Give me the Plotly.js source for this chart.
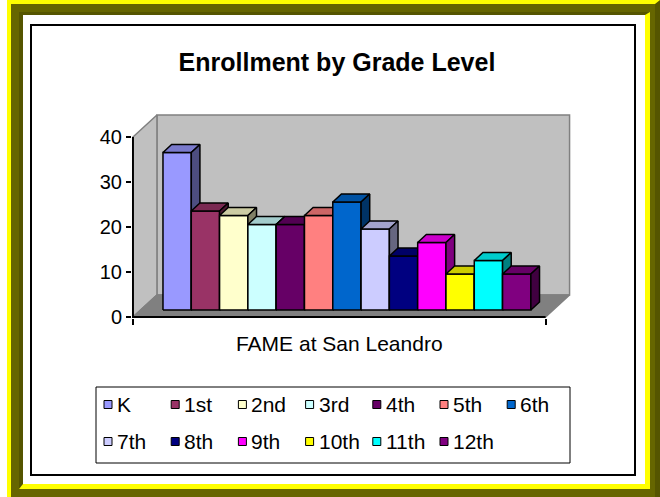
<!DOCTYPE html>
<html>
<head>
<meta charset="utf-8">
<script src="https://cdn.plot.ly/plotly-3.0.1.min.js"></script>
<style>
  html, body { margin:0; padding:0; background:#fff; }
  #wrap { position:relative; width:660px; height:497px; overflow:hidden; }
  .f { position:absolute; box-sizing:border-box; }
  #f1 { left:7px; top:0; width:653px; height:497px; background:#666600;
        border-top:4px solid #FFFF00; border-left:4px solid #FFFF00; border-right:5px solid #555500; }
  #f2 { left:19px; top:12px; width:631px; height:477px; background:#fff;
        border-top:3px solid #555500; border-left:4px solid #555500;
        border-right:5px solid #FFFF00; border-bottom:5px solid #FFFF00; }
  #f3 { left:30px; top:24px; width:606px; height:452px; background:#fff; border:2px solid #000; }
  #chart { position:absolute; left:0; top:0; width:660px; height:497px; }
</style>
</head>
<body>
<div id="wrap">
  <div class="f" id="f1"></div>
  <div class="f" id="f2"></div>
  <div class="f" id="f3"></div>
  <div id="chart"></div>
</div>
<script>
// ---------------- data ----------------
const chartTitle = 'Enrollment by Grade Level';
const category = 'FAME at San Leandro';
const grades = ['K','1st','2nd','3rd','4th','5th','6th','7th','8th','9th','10th','11th','12th'];
const enrollment = [35, 22, 21, 19, 19, 21, 24, 18, 12, 15, 8, 11, 8];
const seriesColors = ['#9999FF','#993366','#FFFFCC','#CCFFFF','#660066','#FF8080','#0066CC',
                      '#CCCCFF','#000080','#FF00FF','#FFFF00','#00FFFF','#800080'];
const yTicks = [0, 10, 20, 30, 40];
const wallTop = 40;

// ---------------- oblique 3-D geometry (layout constants) ----------------
const GAP = 0.79;           // floor margin beyond the bars (bar widths)
const DX = 0.848;           // horizontal shift at full depth (bar widths)
const DY = 4.889;           // vertical shift at full depth (value units)
const D0 = 0.32, D1 = 0.68; // depth extent of the bars (0 = front, 1 = back wall)

// pixel frame of the plot area
const PX_X = 28.3, PX_Y = 4.5;          // px per bar width, px per value unit
const ORIGIN_X = 155.3, ORIGIN_Y = 317; // px of (X=0, H=0, depth 0)
const L = 132, R = 576, T = 108, B = 318;
const xRange = [(L - ORIGIN_X) / PX_X, (R - ORIGIN_X) / PX_X];
const yRange = [(ORIGIN_Y - B) / PX_Y, (ORIGIN_Y - T) / PX_Y];
const paperX = px => (px - L) / (R - L);
const paperY = py => (B - py) / (B - T);

function proj(X, H, D) { return [X + D * DX, H + D * DY]; }
function shade(hex, f) {
  const n = parseInt(hex.slice(1), 16);
  const r = Math.round(((n >> 16) & 255) * f), g = Math.round(((n >> 8) & 255) * f), b = Math.round((n & 255) * f);
  return 'rgb(' + r + ',' + g + ',' + b + ')';
}
function face(pts, fill, lineColor, lw, closed) {
  const xs = [], ys = [];
  pts.forEach(p => { const q = proj(p[0], p[1], p[2]); xs.push(q[0]); ys.push(q[1]); });
  if (closed !== false) { xs.push(xs[0]); ys.push(ys[0]); }
  const t = { type:'scatter', mode:'lines', x:xs, y:ys, line:{color:lineColor, width:lw},
              hoverinfo:'skip', showlegend:false };
  if (fill) { t.fill = 'toself'; t.fillcolor = fill; }
  return t;
}

const n = grades.length;
const x0 = -GAP, x1 = n + GAP;
const traces = [];

// bar traces (front faces of the bars, one series per grade)
grades.forEach((g, i) => {
  traces.push({
    type:'bar', name:g, x:[i + 0.5 + D0 * DX], y:[enrollment[i]], base:[D0 * DY], width:[1],
    marker:{color:seriesColors[i], line:{color:'#000', width:1}}, hoverinfo:'name+y'
  });
});

// walls and floor
traces.push(face([[x0,0,1],[x1,0,1],[x1,wallTop,1],[x0,wallTop,1]], '#C0C0C0', '#808080', 1.5));
traces.push(face([[x0,0,0],[x0,wallTop,0],[x0,wallTop,1],[x0,0,1]], '#C0C0C0', '#808080', 1.5));
traces.push(face([[x0,0,0],[x1,0,0],[x1,0,1],[x0,0,1]], '#808080', '#808080', 1.5));

// 3-D bars, drawn left to right
grades.forEach((g, i) => {
  const v = enrollment[i], c = seriesColors[i];
  traces.push(face([[i,0,D0],[i+1,0,D0],[i+1,v,D0],[i,v,D0]], c, '#000', 1.5));
  traces.push(face([[i,v,D0],[i+1,v,D0],[i+1,v,D1],[i,v,D1]], shade(c, 0.8), '#000', 1.5));
  traces.push(face([[i+1,0,D0],[i+1,0,D1],[i+1,v,D1],[i+1,v,D0]], shade(c, 0.5), '#000', 1.5));
});

// axis edges (value axis on the left wall, category axis on the floor front)
traces.push(face([[x0,wallTop,0],[x0,0,0],[x1,0,0]], null, '#000', 2, false));

// ---------------- legend (two rows of seven columns, boxed) ----------------
const LEG_LEFT = 104, LEG_COL = 67.2, LEG_ROW0 = 404.5, LEG_ROW = 37, LEG_SW = 8, LEG_COLS = 7;
const shapes = [{type:'rect', xref:'paper', yref:'paper', x0:paperX(96), x1:paperX(570),
                 y0:paperY(463), y1:paperY(387), line:{color:'#000', width:1}, layer:'above'}];
const annotations = [];
grades.forEach((g, i) => {
  const col = i % LEG_COLS, row = Math.floor(i / LEG_COLS);
  const sx = LEG_LEFT + col * LEG_COL, cy = LEG_ROW0 + row * LEG_ROW;
  shapes.push({type:'rect', xref:'paper', yref:'paper', layer:'above',
               x0:paperX(sx), x1:paperX(sx + LEG_SW), y0:paperY(cy + LEG_SW/2), y1:paperY(cy - LEG_SW/2),
               fillcolor:seriesColors[i], line:{color:'#000', width:1}});
  annotations.push({xref:'paper', yref:'paper', x:paperX(sx + LEG_SW + 4), y:paperY(cy),
                    xanchor:'left', yanchor:'middle', showarrow:false, text:g,
                    font:{size:21, color:'#000'}, borderpad:0});
});

const layout = {
  width:660, height:497, autosize:false,
  margin:{l:L, r:660 - R, t:T, b:497 - B, pad:0, autoexpand:false},
  paper_bgcolor:'rgba(0,0,0,0)', plot_bgcolor:'rgba(0,0,0,0)',
  font:{family:'"Liberation Sans", Arial, sans-serif', size:20, color:'#000'},
  title:{text:chartTitle, font:{size:25, weight:'bold', color:'#000'},
         xref:'container', x:337/660, xanchor:'center', yref:'container', y:1 - 62/497, yanchor:'middle'},
  barmode:'overlay',
  showlegend:false,
  xaxis:{range:xRange, showgrid:false, zeroline:false, showline:false, fixedrange:true,
         tickmode:'array', tickvals:[proj(n/2, 0, 0)[0]], ticktext:[category], ticks:'',
         tickfont:{size:21}, ticklabelstandoff:11,
         minor:{tickmode:'array', tickvals:[x0, x1], ticks:'outside', ticklen:6, tickwidth:2, tickcolor:'#000'}},
  yaxis:{range:yRange, showgrid:false, zeroline:false, showline:false, fixedrange:true,
         tickmode:'array', tickvals:yTicks, ticks:'outside', ticklen:5, tickwidth:2, tickcolor:'#000'},
  shapes:shapes,
  annotations:annotations
};

Plotly.newPlot('chart', traces, layout, {staticPlot:true, displayModeBar:false});
</script>
</body>
</html>
